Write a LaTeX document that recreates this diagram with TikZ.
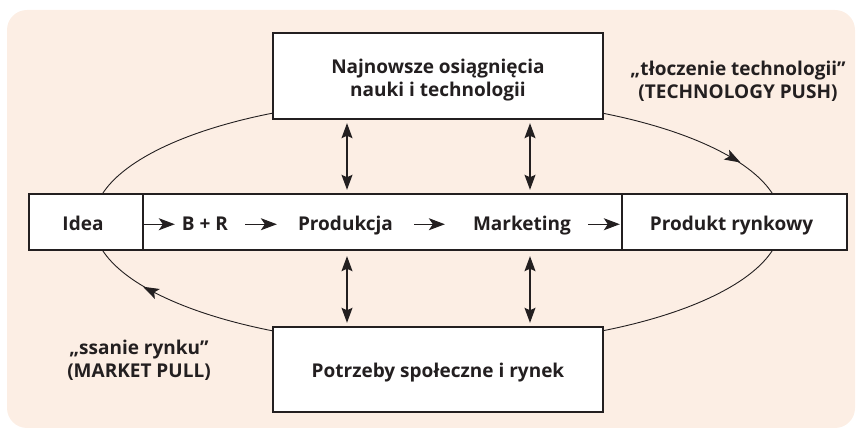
\documentclass[tikz,border=0pt]{standalone}
\usepackage{fontspec}
\setmainfont{Open Sans}
\usetikzlibrary{arrows.meta,decorations.markings}
\definecolor{paper}{RGB}{252,238,228}
\definecolor{ink}{RGB}{35,31,32}
\tikzset{loophead/.tip={Stealth[length=16pt,width=11pt,inset=3.5pt,reversed]}}
\begin{document}
\begin{tikzpicture}[x=1pt,y=1pt,
  box/.style={draw=ink,line width=2.4pt,fill=white,inner sep=0pt},
  lbl/.style={text=ink,font=\fontsize{19}{23}\selectfont\bfseries,inner sep=0pt,
              text height=13.5pt,text depth=0pt},
  twoline/.style={text=ink,font=\fontsize{19}{23}\selectfont\bfseries,inner sep=0pt,align=center},
  flow/.style={draw=ink,line width=1.1pt,-{Stealth[length=16pt,width=12pt,inset=4pt]}},
  both/.style={draw=ink,line width=1.2pt,{Stealth[length=15pt,width=11pt,inset=2.5pt]}-{Stealth[length=15pt,width=11pt,inset=2.5pt]}}
]
\useasboundingbox (0,0) rectangle (859,430);
\fill[paper,rounded corners=20pt] (7,2) rectangle (855,420);

% innovation loop behind the boxes
\draw[ink,line width=0.9pt,postaction={decorate},
  decoration={markings,
    mark=at position 0.0586 with {\arrow[ink]{loophead}},
    mark=at position 0.565 with {\arrow[ink]{loophead}}}]
  (437.5,208) ellipse [x radius=344, y radius=124];

% boxes
\node[box,minimum width=330pt,minimum height=86pt] (top) at (438,354) {};
\node[box,minimum width=330pt,minimum height=85pt] (bot) at (438,60.5) {};
\node[box,minimum width=479pt,minimum height=56pt] (chain) at (382.5,208) {};
\node[box,minimum width=114pt,minimum height=56pt] (idea) at (86,208) {};
\node[box,minimum width=225pt,minimum height=56pt] (prodr) at (734.5,208) {};

% texts
\node[twoline] (topt) at (438,350) {Najnowsze osiągnięcia\\nauki i technologii};
\node[twoline] (bott) at (438,57) {Potrzeby społeczne i rynek};
\node[lbl,anchor=base] (ideat) at (83,199) {Idea};
\node[lbl,anchor=base] (bpr) at (205,199) {B + R};
\node[lbl,anchor=base] (prd) at (345.5,199) {Produkcja};
\node[lbl,anchor=base] (mkt) at (522,199) {Marketing};
\node[lbl,anchor=base] (prt) at (731.5,199) {Produkt rynkowy};
\node[twoline] (push) at (738,349) {„tłoczenie technologii”\\(TECHNOLOGY PUSH)};
\node[twoline] (pull) at (139,70) {„ssanie rynku”\\(MARKET PULL)};

% chain arrows
\draw[flow,shorten >=7pt] (idea.east |- bpr.west) -- (bpr.west);
\draw[flow,shorten <=17pt,shorten >=21pt] (bpr.east) -- (prd.west);
\draw[flow,shorten <=21pt,shorten >=28pt] (prd.east) -- (mkt.west);
\draw[flow,shorten <=17pt,shorten >=1pt] (mkt.east) -- (prodr.west |- mkt.east);

% two-way links
\coordinate (c1) at (347,0);
\coordinate (c2) at (530,0);
\draw[both,shorten <=3pt,shorten >=3pt] (top.south -| c1) -- (chain.north -| c1);
\draw[both,shorten <=3pt,shorten >=3pt] (top.south -| c2) -- (chain.north -| c2);
\draw[both,shorten <=5pt,shorten >=3pt] (chain.south -| c1) -- (bot.north -| c1);
\draw[both,shorten <=5pt,shorten >=3pt] (chain.south -| c2) -- (bot.north -| c2);
\end{tikzpicture}
\end{document}
